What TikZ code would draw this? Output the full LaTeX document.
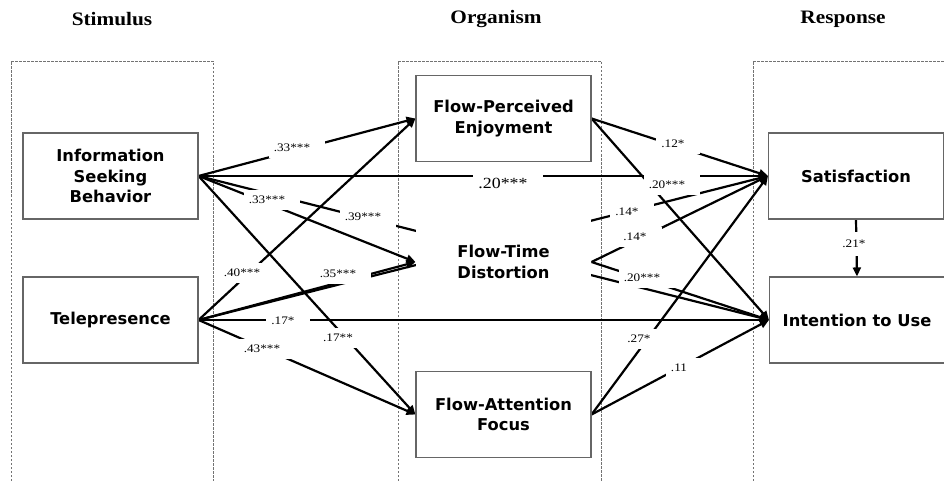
\documentclass[tikz,border=0pt]{standalone}
\usepackage{fontspec}
\usetikzlibrary{arrows.meta}
\newfontfamily\boxfont{DejaVu Sans}
\newfontfamily\labfont[FakeStretch=1.15]{Liberation Serif}
\newfontfamily\headfont[FakeStretch=1.12]{Liberation Serif Bold}
\pgfdeclarelayer{back}
\pgfdeclarelayer{edges}
\pgfsetlayers{back,edges,main}
\begin{document}
\begin{tikzpicture}[x=1pt,y=-1pt,
  box/.style={draw=black!60, line width=1.1pt, fill=white, minimum width=175pt,
    minimum height=86pt, inner sep=0pt, align=center,
    font=\boxfont\bfseries\fontsize{16.3}{20.5}\selectfont},
  frame/.style={draw=black!55, line width=0.8pt, dash pattern=on 2.5pt off 1.5pt},
  edge/.style={line width=2.2pt, -{Triangle[length=9pt,width=8pt]}},
  lab/.style={fill=white, inner xsep=5pt, inner ysep=6pt, xshift=5pt,
    font=\labfont\fontsize{11.5}{12}\selectfont, execute at end node={\hspace{10pt}}},
  head/.style={font=\headfont\fontsize{19}{22}\selectfont}]
\useasboundingbox (0,0) rectangle (944,481);
% headers
\node[head] (hs) at (112,19) {Stimulus};
\node[head] (ho) at (496,19) {Organism};
\node[head] (hr) at (843,19) {Response};
% stage frames
\begin{pgfonlayer}{back}
\draw[frame] (11,481) -- (11,61) -- (213,61) -- (213,481);
\draw[frame] (398,481) -- (398,61) -- (601,61) -- (601,481);
\draw[frame] (753,481) -- (753,61) -- (944,61);
\end{pgfonlayer}
% nodes
\node[box] (isb) at (110.5,176) {Information\\Seeking\\Behavior};
\node[box] (tel) at (110.5,320) {Telepresence};
\node[box] (fpe) at (503.5,118.5) {Flow-Perceived\\Enjoyment};
\node[box, draw=none] (ftd) at (503.5,262) {Flow-Time\\Distortion};
\node[box] (faf) at (503.5,414.5) {Flow-Attention\\Focus};
\node[box] (sat) at (856,176) {Satisfaction};
\node[box] (int) at (857,320) {Intention to Use};
% edges
\begin{pgfonlayer}{edges}
\draw[edge] (isb.east) -- (fpe.west);
\draw[edge] (isb.east) -- (sat.west);
\draw[edge] (isb.east) -- (ftd.west);
\draw[edge] (isb.east) -- (int.west);
\draw[edge] (isb.east) -- (faf.west);
\draw[edge] (tel.east) -- (fpe.west);
\draw[edge] (tel.east) -- (ftd.west);
\draw[edge] (tel.east) -- (int.west);
\draw[edge] (tel.east) -- (faf.west);
\draw[edge] (tel.east) -- (sat.west);
\draw[edge] (fpe.east) -- (sat.west);
\draw[edge] (fpe.east) -- (int.west);
\draw[edge] (ftd.east) -- (sat.west);
\draw[edge] (ftd.east) -- (int.west);
\draw[edge] (faf.east) -- (sat.west);
\draw[edge] (faf.east) -- (int.west);
\draw[edge] (sat.south) -- (int.north);
\end{pgfonlayer}
% labels
\node[lab] (l1) at (292,148) {.33***};
\node[lab, font=\labfont\fontsize{15.5}{16}\selectfont] (l2) at (503,183) {.20***};
\node[lab] (l3) at (267,200) {.33***};
\node[lab] (l4) at (363,217) {.39***};
\node[lab] (l5) at (338,338) {.17**};
\node[lab] (l6) at (242,273) {.40***};
\node[lab] (l7) at (338,274) {.35***};
\node[lab] (l8) at (283,321) {.17*};
\node[lab] (l9) at (262,349) {.43***};
\node[lab] (l10) at (627,212) {.14*};
\node[lab] (l11) at (673,144) {.12*};
\node[lab] (l12) at (667,185) {.20***};
\node[lab] (l13) at (635,237) {.14*};
\node[lab] (l14) at (642,278) {.20***};
\node[lab] (l15) at (639,339) {.27*};
\node[lab] (l16) at (679,368) {.11};
\node[lab, xshift=-5pt, inner ysep=8pt, execute at end node={}] (l17) at (859,244) {.21*};
\end{tikzpicture}
\end{document}
